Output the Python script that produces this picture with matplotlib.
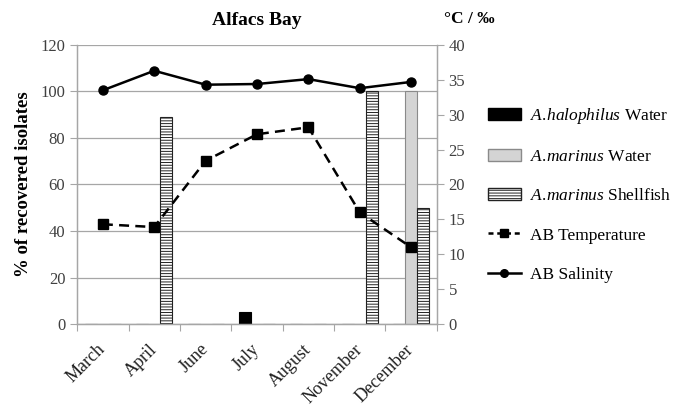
import numpy as np
import matplotlib
matplotlib.use('Agg')
import matplotlib.pyplot as plt
import matplotlib.transforms as mtransforms
from matplotlib.patches import Patch
from matplotlib.lines import Line2D

plt.rcParams['font.family'] = ['Liberation Serif', 'DejaVu Serif']
plt.rcParams['mathtext.fontset'] = 'custom'
plt.rcParams['mathtext.it'] = 'Liberation Serif:italic'
plt.rcParams['mathtext.rm'] = 'Liberation Serif'
plt.rcParams['hatch.linewidth'] = 0.7

months = ['March', 'April', 'June', 'July', 'August', 'November', 'December']
halophilus_water = [0, 0, 0, 5, 0, 0, 0]
marinus_water = [0, 0, 0, 0, 0, 0, 100]
marinus_shellfish = [0, 89, 0, 0, 0, 100, 50]
temperature = [14.3, 13.9, 23.4, 27.2, 28.2, 16.0, 11.0]
salinity = [33.5, 36.3, 34.3, 34.4, 35.1, 33.8, 34.7]

grid_c = '#a6a6a6'
x = np.arange(len(months))
w = 0.235

fig = plt.figure(figsize=(6.89, 4.16), dpi=100)
ax = fig.add_axes([0.112, 0.221, 0.522, 0.671])
ax2 = ax.twinx()

ax.bar(x - w, halophilus_water, w, color='black', edgecolor='black', lw=0.8, zorder=2)
ax.bar(x, marinus_water, w, color='#d4d4d4', edgecolor='#8a8a8a', lw=0.8, zorder=2)
ax.bar(x + w, marinus_shellfish, w, color='white', edgecolor='#222222', hatch='------', lw=0.8, zorder=2)

ax2.plot(x, temperature, color='black', ls=(0, (4, 2.5)), lw=1.8, marker='s', ms=7, zorder=3)
ax2.plot(x, salinity, color='black', ls='-', lw=1.8, marker='o', ms=6.5, zorder=3)

ax.set_xlim(-0.5, len(months) - 0.5)
ax.set_ylim(0, 120)
ax.set_yticks(np.arange(0, 121, 20))
ax2.set_ylim(0, 40)
ax2.set_yticks(np.arange(0, 41, 5))
ax.yaxis.grid(True, color=grid_c, lw=0.9, zorder=0)
ax.set_axisbelow(True)

ax.set_xticks(np.arange(len(months) + 1) - 0.5, minor=False)
ax.set_xticklabels([])
ax.set_xticks(x, minor=True)
ax.set_xticklabels(months, minor=True, rotation=45, ha='right', rotation_mode='anchor', fontsize=13)
ax.tick_params(axis='x', which='minor', length=0, pad=12)
ax.tick_params(axis='x', which='major', length=5, color=grid_c, direction='out')
ax.tick_params(axis='y', labelsize=12, color=grid_c, length=5, colors='#404040')
ax2.tick_params(axis='y', labelsize=12, color=grid_c, length=5, colors='#404040')
shift = mtransforms.ScaledTranslation(-6 / 100, 0, fig.dpi_scale_trans)
for lab in ax.get_xticklabels(minor=True):
    lab.set_color('#202020')
    lab.set_transform(lab.get_transform() + shift)

for a in (ax, ax2):
    a.spines['top'].set_visible(False)
    for s in ('left', 'right', 'bottom'):
        a.spines[s].set_color(grid_c)
        a.spines[s].set_linewidth(0.9)

ax.set_ylabel('% of recovered isolates', fontsize=13.5, fontweight='bold', labelpad=6)
ax.set_title('Alfacs Bay', fontsize=14, fontweight='bold', pad=14)
fig.text(0.645, 0.955, '°C / ‰', fontsize=12.5, fontweight='bold', va='center', ha='left')

handles = [
    Patch(facecolor='black', edgecolor='black'),
    Patch(facecolor='#d4d4d4', edgecolor='#8a8a8a'),
    Patch(facecolor='white', edgecolor='#222222', hatch='------'),
    Line2D([], [], color='black', ls=(0, (2, 1.5)), lw=1.8, marker='s', ms=6),
    Line2D([], [], color='black', ls='-', lw=1.8, marker='o', ms=5.5),
]
labels = [r'$\mathit{A.\!halophilus}$ Water', r'$\mathit{A.\!marinus}$ Water',
          r'$\mathit{A.\!marinus}$ Shellfish', 'AB Temperature', 'AB Salinity']
fig.legend(handles, labels, loc='upper left', bbox_to_anchor=(0.685, 0.782),
           frameon=False, fontsize=12.5, labelspacing=1.32, handlelength=1.9,
           handletextpad=0.55)

fig.savefig('out.png', dpi=100)
